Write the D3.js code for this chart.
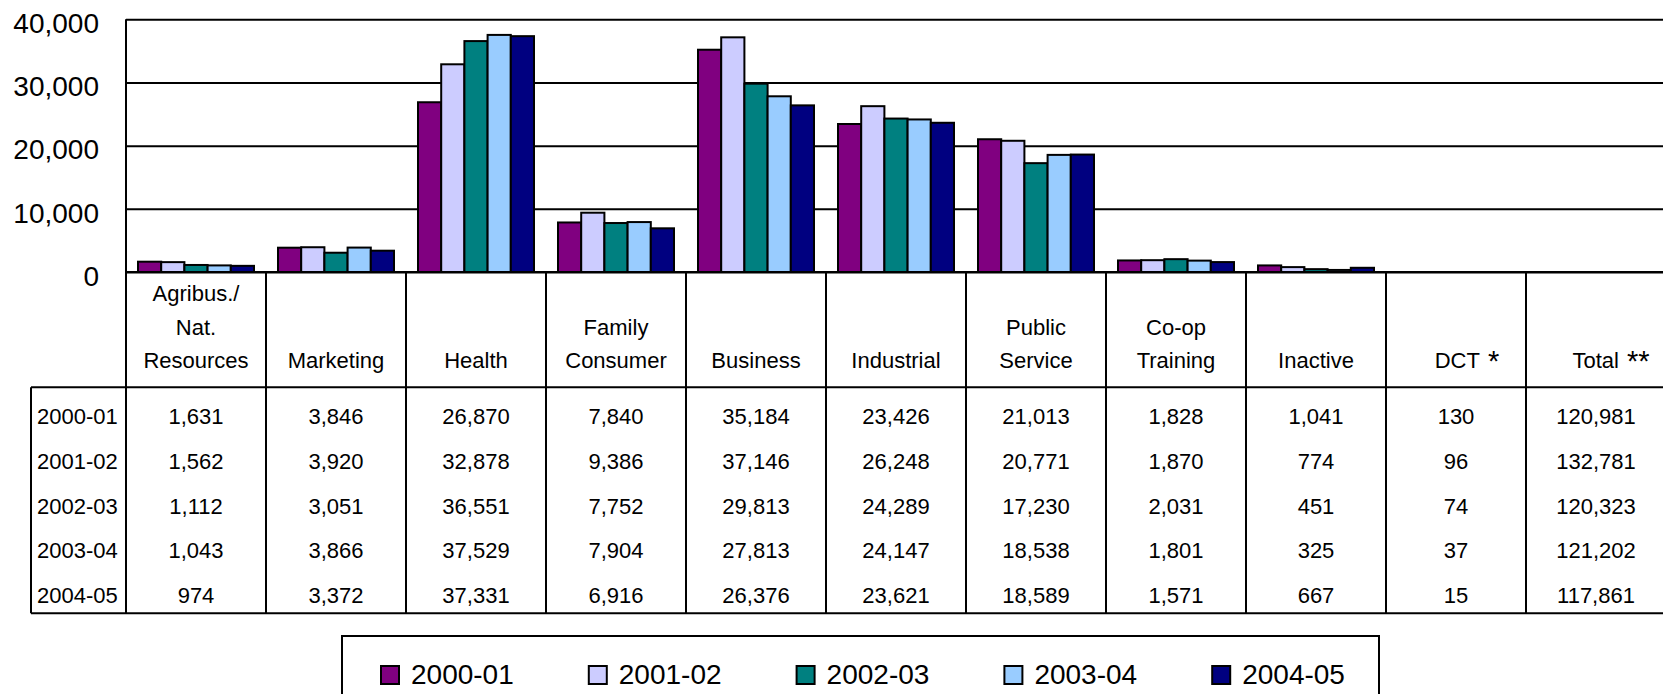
<!DOCTYPE html>
<html><head><meta charset="utf-8">
<script src="https://cdn.jsdelivr.net/npm/d3@7"></script>
<style>
body{margin:0;background:#fff;}
text{font-family:"Liberation Sans",Arial,sans-serif;fill:#000;}
</style>
</head><body>
<svg id="chart" width="1663" height="694"></svg>
<script>
// ---- data ----
const categories = ["Agribus./ Nat. Resources","Marketing","Health","Family Consumer","Business","Industrial","Public Service","Co-op Training","Inactive","DCT *","Total **"];
const categoryLines = [["Agribus./","Nat.","Resources"],["Marketing"],["Health"],["Family","Consumer"],["Business"],["Industrial"],["Public","Service"],["Co-op","Training"],["Inactive"],["DCT *"],["Total **"]];
const plottedCategories = ["Agribus./ Nat. Resources","Marketing","Health","Family Consumer","Business","Industrial","Public Service","Co-op Training","Inactive"];
const years = ["2000-01","2001-02","2002-03","2003-04","2004-05"];
const v2000_01 = [1631,3846,26870,7840,35184,23426,21013,1828,1041,130,120981];
const v2001_02 = [1562,3920,32878,9386,37146,26248,20771,1870,774,96,132781];
const v2002_03 = [1112,3051,36551,7752,29813,24289,17230,2031,451,74,120323];
const v2003_04 = [1043,3866,37529,7904,27813,24147,18538,1801,325,37,121202];
const v2004_05 = [974,3372,37331,6916,26376,23621,18589,1571,667,15,117861];
const seriesValues = [v2000_01, v2001_02, v2002_03, v2003_04, v2004_05];
const colors = ["#800080","#CCCCFF","#008080","#99CCFF","#000080"];
const yTicks = [0,10000,20000,30000,40000];

// ---- layout ----
const svg = d3.select("#chart");
const left = 126, colW = 140;
const tableTop = 387.3, tableBottom = 613.3, labelLeft = 31;
const rightEnd = left + colW * categories.length;

const x = d3.scaleBand().domain(categories).range([left, rightEnd]);
const x1 = d3.scaleBand().domain(years).range([12, 128]);
const y = d3.scaleLinear().domain([0, 40000]).range([272, 19.3]);
const fmt = d3.format(",");

// gridlines + y labels
const yAxis = d3.axisLeft(y).tickValues(yTicks).tickFormat(fmt)
  .tickSize(-(rightEnd - left)).tickPadding(27);
const ga = svg.append("g").attr("transform", `translate(${left},0)`).call(yAxis);
ga.select(".domain").remove();
ga.selectAll(".tick line").attr("stroke", "#000").attr("stroke-width", 2);
ga.selectAll(".tick text").attr("font-size", 28).attr("dy", "0.475em")
  .style("font-family", '"Liberation Sans",Arial,sans-serif').attr("fill", "#000");

// bars
const data = [];
plottedCategories.forEach(c => {
  const ci = categories.indexOf(c);
  years.forEach((yr, si) => data.push({cat: c, year: yr, si, value: seriesValues[si][ci]}));
});
svg.append("g").selectAll("rect").data(data).join("rect")
  .attr("x", d => x(d.cat) + x1(d.year))
  .attr("width", x1.bandwidth())
  .attr("y", d => y(d.value))
  .attr("height", d => y(0) - y(d.value))
  .attr("fill", d => colors[d.si])
  .attr("stroke", "#000").attr("stroke-width", 2);

// axis baseline
svg.append("line").attr("x1", left).attr("x2", rightEnd).attr("y1", y(0)).attr("y2", y(0))
  .attr("stroke", "#000").attr("stroke-width", 2);
// left axis line (plot border, extends through table)
svg.append("line").attr("x1", left).attr("x2", left).attr("y1", y(40000)).attr("y2", tableBottom)
  .attr("stroke", "#000").attr("stroke-width", 2);

// table lines
const tl = svg.append("g").attr("stroke", "#000").attr("stroke-width", 2);
categories.forEach((c, i) => {
  const xx = x(c) + x.bandwidth();
  tl.append("line").attr("x1", xx).attr("x2", xx).attr("y1", y(0)).attr("y2", tableBottom);
});
tl.append("line").attr("x1", labelLeft).attr("x2", labelLeft).attr("y1", tableTop).attr("y2", tableBottom);
tl.append("line").attr("x1", labelLeft).attr("x2", rightEnd).attr("y1", tableTop).attr("y2", tableTop);
tl.append("line").attr("x1", labelLeft).attr("x2", rightEnd).attr("y1", tableBottom).attr("y2", tableBottom);

// header labels
const headerOffsets = {"DCT *": 11, "Total **": 15};
const hdr = svg.append("g").attr("font-size", 22).attr("text-anchor", "middle");
categories.forEach((c, i) => {
  const lines = categoryLines[i];
  const cx = x(c) + x.bandwidth() / 2 + (headerOffsets[c] || 0);
  lines.forEach((ln, j) => {
    const base = 368 - (lines.length - 1 - j) * 33.5;
    const t = hdr.append("text").attr("x", cx).attr("y", base);
    const m = ln.match(/^(.*?)(\s\*+)$/);
    if (m) {
      t.append("tspan").text(m[1]);
      t.append("tspan").attr("font-size", 29).attr("dy", 3).text(m[2]);
    } else {
      t.text(ln);
    }
  });
});

// table values
const rowStep = 44.75, firstBase = 424;
const tv = svg.append("g").attr("font-size", 22);
years.forEach((yr, si) => {
  const by = firstBase + si * rowStep;
  tv.append("text").attr("x", labelLeft + 6).attr("y", by).text(yr);
  categories.forEach((c, ci) => {
    tv.append("text").attr("x", x(c) + x.bandwidth() / 2).attr("y", by)
      .attr("text-anchor", "middle").text(fmt(seriesValues[si][ci]));
  });
});

// legend
const lg = svg.append("g");
lg.append("rect").attr("x", 342).attr("y", 636).attr("width", 1037).attr("height", 80)
  .attr("fill", "none").attr("stroke", "#000").attr("stroke-width", 2);
years.forEach((yr, i) => {
  const lx = 381 + i * 207.8;
  lg.append("rect").attr("x", lx).attr("y", 666).attr("width", 18).attr("height", 18)
    .attr("fill", colors[i]).attr("stroke", "#000").attr("stroke-width", 2);
  lg.append("text").attr("x", lx + 30).attr("y", 684).attr("font-size", 28).text(yr);
});
</script>
</body></html>
